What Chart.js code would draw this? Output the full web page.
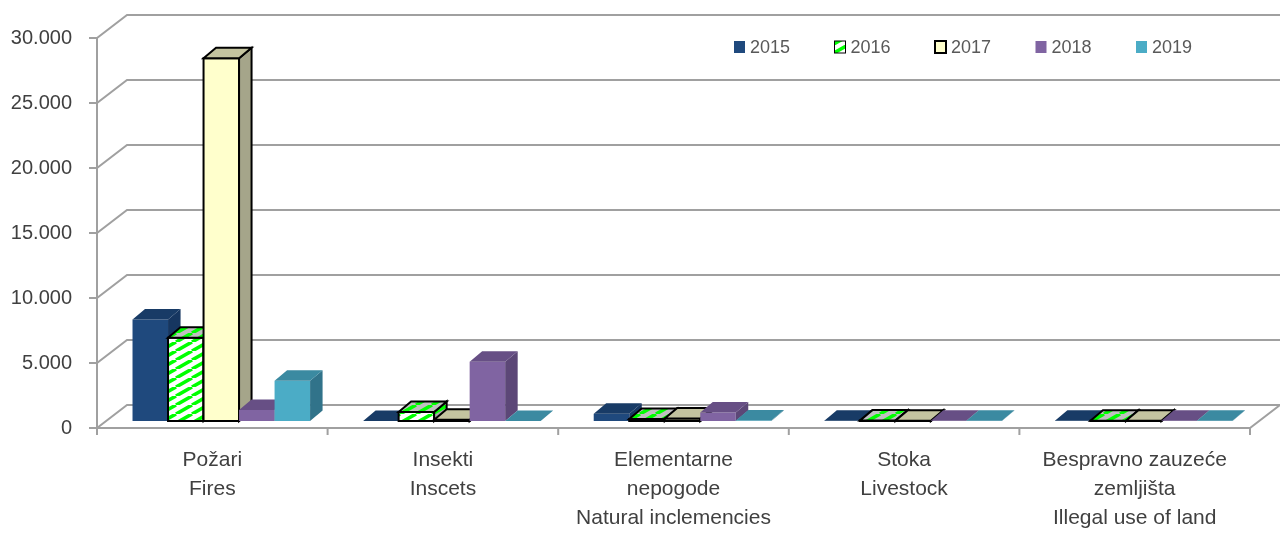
<!DOCTYPE html>
<html>
<head>
<meta charset="utf-8">
<script src="https://cdn.jsdelivr.net/npm/chart.js@4"></script>
<style>
  html, body { margin: 0; padding: 0; background: #fff; }
  #wrap { width: 1280px; height: 533px; }
</style>
</head>
<body>
<div id="wrap"><canvas id="c"></canvas></div>
<script>
// kategorije (dvojezično, po redovima)
const categories = [
  ['Požari', 'Fires'],
  ['Insekti', 'Inscets'],
  ['Elementarne', 'nepogode', 'Natural inclemencies'],
  ['Stoka', 'Livestock'],
  ['Bespravno zauzeće', 'zemljišta', 'Illegal use of land']
];

const years = ['2015', '2016', '2017', '2018', '2019'];

const v2015 = [7800, 0, 550, 20, 15];
const v2016 = [6400, 700, 150, 30, 25];
const v2017 = [27900, 100, 200, 25, 20];
const v2018 = [850, 4550, 650, 15, 10];
const v2019 = [3100, 0, 30, 10, 10];

const yTicks = [0, 5000, 10000, 15000, 20000, 25000, 30000];

const FONT = "'Liberation Sans', Arial, sans-serif";

// ── boje: prednja / gornja / bočna strana ──
function stripes(bg, w, h) {
  const c = document.createElement('canvas');
  c.width = w; c.height = h;
  const g = c.getContext('2d');
  g.fillStyle = bg;
  g.fillRect(0, 0, w, h);
  g.strokeStyle = '#00FF00';
  g.lineWidth = 3.6;
  g.beginPath();
  [-w, 0, w].forEach(o => { g.moveTo(o, h); g.lineTo(o + w, 0); });
  g.stroke();
  return document.getElementById('c').getContext('2d').createPattern(c, 'repeat');
}

const faces = [
  { front: '#1F497D', top: '#183B66', side: '#163660', stroke: null },
  { front: stripes('#FFFFFF', 16, 9), top: stripes('#C0C0C0', 16, 9), side: stripes('#A8A8A8', 16, 9), stroke: '#000' },
  { front: '#FFFFCC', top: '#C4C4A0', side: '#A5A58A', stroke: '#000' },
  { front: '#8064A2', top: '#674F85', side: '#5C4777', stroke: null },
  { front: '#4BACC6', top: '#3B8AA1', side: '#31738A', stroke: null }
];

// dubina zida i stubića
const WALL = { dx: 30, dy: -23 };
const BAR_OFF = { dx: 9, dy: -7 };
const BAR_D = { dx: 12.5, dy: -10.5 };

function poly(ctx, pts, fill, stroke) {
  ctx.beginPath();
  ctx.moveTo(pts[0][0], pts[0][1]);
  for (let i = 1; i < pts.length; i++) ctx.lineTo(pts[i][0], pts[i][1]);
  ctx.closePath();
  ctx.fillStyle = fill;
  ctx.fill();
  if (stroke) { ctx.strokeStyle = stroke; ctx.lineWidth = 2; ctx.stroke(); }
}

const box3d = {
  id: 'box3d',
  beforeDatasetsDraw(chart) {
    const { ctx, chartArea: a, scales: { y } } = chart;
    ctx.save();

    // zidovi i pod
    ctx.strokeStyle = '#A0A0A0';
    ctx.lineWidth = 2;
    ctx.beginPath();
    yTicks.forEach(v => {
      const py = y.getPixelForValue(v);
      ctx.moveTo(a.left - 8, py);
      ctx.lineTo(a.left, py);
      ctx.lineTo(a.left + WALL.dx, py + WALL.dy);
      ctx.lineTo(a.right + WALL.dx, py + WALL.dy);
    });
    ctx.moveTo(a.left, a.top);
    ctx.lineTo(a.left, a.bottom);
    ctx.lineTo(a.right, a.bottom);
    ctx.lineTo(a.right + WALL.dx, a.bottom + WALL.dy);
    const catW = (a.right - a.left) / categories.length;
    for (let i = 0; i <= categories.length; i++) {
      const px = a.left + i * catW;
      ctx.moveTo(px, a.bottom);
      ctx.lineTo(px, a.bottom + 7);
    }
    ctx.stroke();

    // stubići, s lijeva na desno
    for (let i = 0; i < categories.length; i++) {
      chart.data.datasets.forEach((ds, d) => {
        const el = chart.getDatasetMeta(d).data[i];
        const p = el.getProps(['x', 'y', 'base', 'width'], true);
        const f = faces[d];
        const x0 = p.x - p.width / 2 + BAR_OFF.dx, x1 = x0 + p.width;
        const yt = p.y + BAR_OFF.dy, yb = p.base + BAR_OFF.dy;
        const bx = BAR_D.dx, by = BAR_D.dy;
        poly(ctx, [[x0, yt], [x1, yt], [x1, yb], [x0, yb]], f.front, f.stroke);
        poly(ctx, [[x1, yt], [x1 + bx, yt + by], [x1 + bx, yb + by], [x1, yb]], f.side, f.stroke);
        poly(ctx, [[x0, yt], [x1, yt], [x1 + bx, yt + by], [x0 + bx, yt + by]], f.top, f.stroke);
      });
    }
    ctx.restore();
    return false;
  },
  afterDraw(chart) {
    // legenda
    const { ctx } = chart;
    ctx.save();
    ctx.font = '18px ' + FONT;
    ctx.textBaseline = 'middle';
    years.forEach((yr, d) => {
      const lx = 734 + d * 100.5, ly = 41;
      const f = faces[d];
      ctx.fillStyle = f.front;
      ctx.fillRect(lx, ly, 11, 12);
      if (f.stroke) {
        ctx.strokeStyle = '#000';
        ctx.lineWidth = d === 2 ? 2 : 1;
        ctx.strokeRect(lx, ly, 11, 12);
      }
      ctx.fillStyle = '#595959';
      ctx.fillText(yr, lx + 16, ly + 7);
    });
    ctx.restore();
  }
};

const series = [v2015, v2016, v2017, v2018, v2019];

new Chart(document.getElementById('c'), {
  type: 'bar',
  data: {
    labels: categories,
    datasets: series.map((vals, d) => ({
      label: years[d],
      data: vals,
      backgroundColor: typeof faces[d].front === 'string' ? faces[d].front : '#00FF00'
    }))
  },
  options: {
    responsive: true,
    maintainAspectRatio: false,
    animation: false,
    layout: { padding: { top: 38, right: 30, left: 0, bottom: 0 } },
    datasets: { bar: { categoryPercentage: 0.77, barPercentage: 1 } },
    plugins: { legend: { display: false }, tooltip: { enabled: false } },
    scales: {
      x: {
        afterFit: s => { s.height = 105; },
        grid: { display: false, drawTicks: false },
        border: { display: false },
        ticks: {
          color: '#404040',
          font: { family: FONT, size: 21, lineHeight: 1.38 },
          padding: 18,
          maxRotation: 0,
          autoSkip: false
        }
      },
      y: {
        min: 0,
        max: 30000,
        afterFit: s => { s.width = 97; },
        afterBuildTicks: s => { s.ticks = yTicks.map(v => ({ value: v })); },
        grid: { display: false, drawTicks: false },
        border: { display: false },
        ticks: {
          color: '#404040',
          font: { family: FONT, size: 20 },
          padding: 25,
          callback: v => v === 0 ? '0' : (v / 1000) + '.000'
        }
      }
    }
  },
  plugins: [box3d]
});
</script>
</body>
</html>
